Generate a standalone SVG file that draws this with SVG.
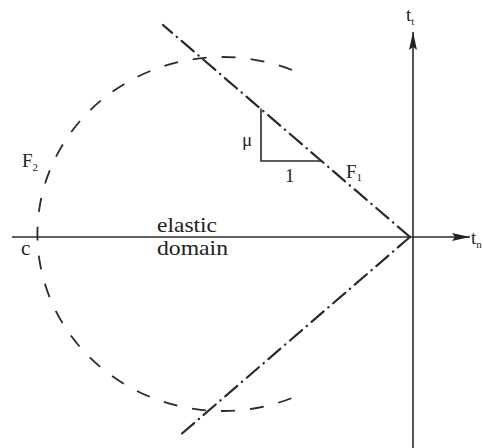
<svg xmlns="http://www.w3.org/2000/svg" width="483" height="448" viewBox="0 0 483 448">
<style>
.ax{stroke:#2a2a2a;stroke-width:1.6;fill:none}
.dd{stroke:#2a2a2a;stroke-width:2.2;fill:none;stroke-dasharray:16 6 0.5 6;stroke-linecap:round}
.ds{stroke:#2a2a2a;stroke-width:1.8;fill:none;stroke-dasharray:14 15}
.tx{font-family:"Liberation Serif","Times New Roman",serif;fill:#222;font-size:19px}
.sb{font-size:11px}
.lg{font-size:21px}
</style>
<defs>
<marker id="ah" markerWidth="18" markerHeight="8" refX="18" refY="4" orient="auto" markerUnits="userSpaceOnUse">
<path d="M0,0 L18,4 L0,8 L3,4 Z" fill="#222"/>
</marker>
</defs>
<rect width="483" height="448" fill="#fff"/>
<g id="connectors">
<line class="ax" x1="12" y1="237" x2="470" y2="237" marker-end="url(#ah)"/>
<line class="ax" x1="413" y1="448" x2="413" y2="32" marker-end="url(#ah)"/>
<line class="dd" x1="410" y1="237" x2="163" y2="25"/>
<line class="dd" x1="410" y1="237" x2="178" y2="437"/>
<path class="ds" d="M292,70 A185,177 0 1 0 292,398"/>
<path class="ax" d="M261,108.5 L261,161 L322,161"/>
</g>
<g id="labels">
<text class="tx" x="406" y="21">t<tspan class="sb" dy="4">t</tspan></text>
<text class="tx" x="471" y="244">t<tspan class="sb" dy="4">n</tspan></text>
<text class="tx" x="242" y="146">μ</text>
<text class="tx" x="285" y="182">1</text>
<text class="tx" x="346" y="178">F<tspan class="sb" dy="3">1</tspan></text>
<text class="tx" x="22" y="167">F<tspan class="sb" dy="4">2</tspan></text>
<text class="tx lg" x="21" y="255">c</text>
<text class="tx lg" x="157" y="232" textLength="60" lengthAdjust="spacingAndGlyphs">elastic</text>
<text class="tx lg" x="157" y="255" textLength="71" lengthAdjust="spacingAndGlyphs">domain</text>
</g>
</svg>
